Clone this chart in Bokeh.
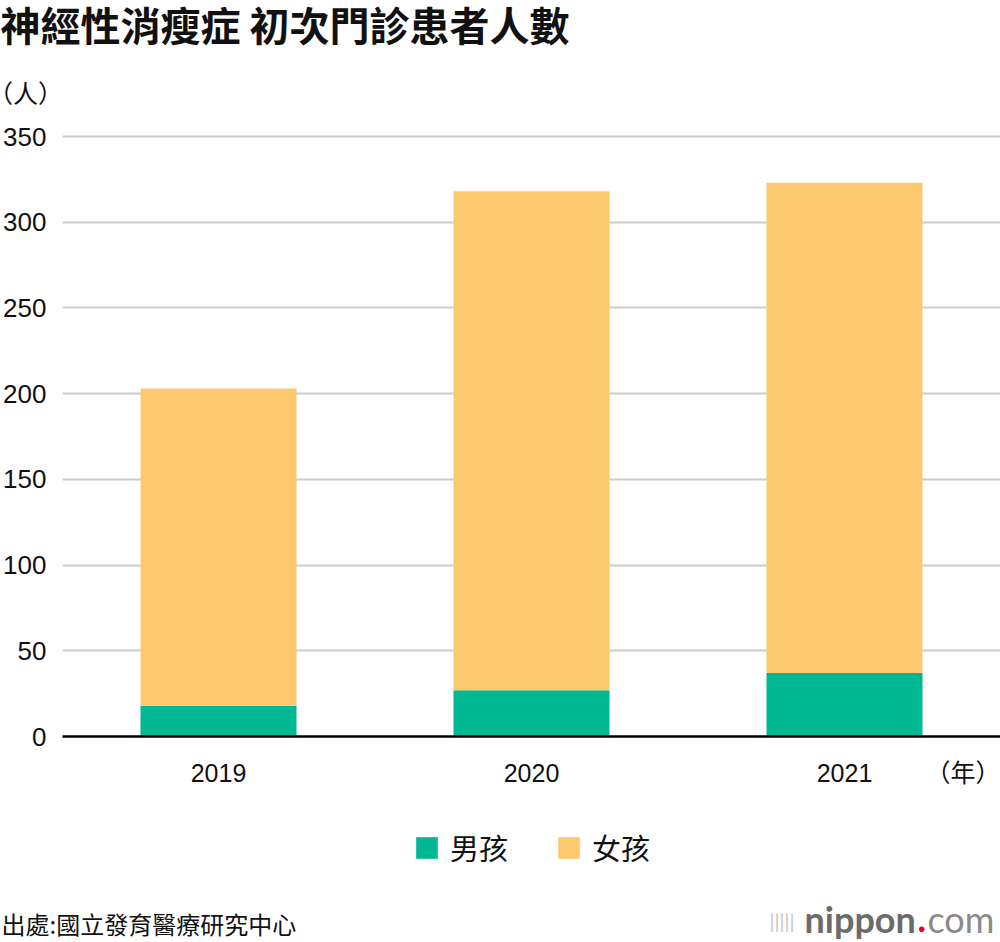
from bokeh.plotting import figure
from bokeh.layouts import column
from bokeh.models import ColumnDataSource, Range1d, FixedTicker, Label, Legend, LegendItem
from bokeh.embed import file_html
from bokeh.resources import INLINE

# ---- data ----
years = [2019, 2020, 2021]
year_labels = ["2019", "2020", "2021"]
boys = [18, 27, 37]
girls = [185, 291, 286]
y_ticks = [0, 50, 100, 150, 200, 250, 300, 350]
series_names = ["男孩", "女孩"]
title_text = "神經性消瘦症 初次門診患者人數"
y_unit = "（人）"
x_unit = "（年）"
source_text = "出處:國立發育醫療研究中心"

GREEN = "#00b894"
YELLOW = "#fcc96e"
TXT = "#111111"
CJK = "Noto Sans CJK TC"
LAT = "Liberation Sans"

W = 1000
TOP_H, CHART_H, BOT_H = 120, 680, 142


def pixel_fig(h):
    f = figure(width=W, height=h, x_range=Range1d(0, W), y_range=Range1d(h, 0),
               output_backend="svg", toolbar_location=None,
               x_axis_location=None, y_axis_location=None,
               min_border_left=0, min_border_right=0, min_border_top=0, min_border_bottom=0)
    f.frame_align = False
    f.grid.visible = False
    f.outline_line_color = None
    return f


def lab(f, x, y, text, size, font=CJK, style="normal", color=TXT, align="left", baseline="middle"):
    f.add_layout(Label(x=x, y=y, text=text, text_font=font, text_font_size=size,
                       text_font_style=style, text_color=color, text_align=align,
                       text_baseline=baseline))


# ---- top: title and unit ----
top = pixel_fig(TOP_H)
lab(top, 0, 23, title_text, "40px", style="bold")
lab(top, 25, 91, y_unit, "25px", align="center")

# ---- chart ----
BL, BT, BB = 62, 14, 64
FH = CHART_H - BT - BB          # 602
FW = W - BL                     # 938
PX = 313.0
x0 = years[0] - 156 / PX
x1 = x0 + FW / PX
y_end = 350 * FH / 600.0
unit_tick = x0 + (985 - BL) / PX

src = ColumnDataSource(dict(year=years, boys=boys, girls=girls))

p = figure(width=W, height=CHART_H, x_range=Range1d(x0, x1), y_range=Range1d(0, y_end),
           output_backend="svg", toolbar_location=None,
           min_border_left=BL, min_border_right=0, min_border_top=BT, min_border_bottom=BB)
p.frame_align = False
p.outline_line_color = None

rs = p.vbar_stack(["boys", "girls"], x="year", width=156 / PX, color=[GREEN, YELLOW],
                  line_color=None, source=src)

p.xaxis.ticker = FixedTicker(ticks=years + [unit_tick])
overrides = {y: s for y, s in zip(years, year_labels)}
overrides[unit_tick] = x_unit
p.xaxis.major_label_overrides = overrides
p.xaxis.axis_line_color = "black"
p.xaxis.axis_line_width = 2.5
p.xaxis.major_tick_line_color = None
p.xaxis.minor_tick_line_color = None
p.xaxis.major_tick_out = 0
p.xaxis.major_label_text_font = LAT + ", " + CJK
p.xaxis.major_label_text_font_size = "25px"
p.xaxis.major_label_text_color = TXT
p.xaxis.major_label_standoff = 22

p.yaxis.ticker = FixedTicker(ticks=y_ticks)
p.yaxis.axis_line_color = None
p.yaxis.major_tick_line_color = None
p.yaxis.minor_tick_line_color = None
p.yaxis.major_tick_out = 0
p.yaxis.major_label_text_font = LAT
p.yaxis.major_label_text_font_size = "26px"
p.yaxis.major_label_text_color = TXT
p.yaxis.major_label_standoff = 16

p.xgrid.grid_line_color = None
p.ygrid.ticker = FixedTicker(ticks=y_ticks[1:])
p.ygrid.grid_line_color = "#cccccc"
p.ygrid.grid_line_width = 2

# ---- bottom: legend, source, logo ----
bot = pixel_fig(BOT_H)
# hidden legend proxies (same data, not drawn in this panel)
lg0 = bot.vbar(x="year", top="boys", width=1, color=GREEN, line_color=None, source=src, visible=False)
lg1 = bot.vbar(x="year", top="girls", width=1, color=YELLOW, line_color=None, source=src, visible=False)
legend = Legend(items=[LegendItem(label=series_names[0], renderers=[lg0]),
                       LegendItem(label=series_names[1], renderers=[lg1])],
                orientation="horizontal", location=(413, 74),
                glyph_width=27, glyph_height=27, label_height=27,
                label_standoff=10, spacing=47, padding=0, margin=0,
                border_line_color=None, background_fill_alpha=0,
                inactive_fill_alpha=0,
                label_text_font=CJK, label_text_font_size="29px",
                label_text_color=TXT)
bot.add_layout(legend, "center")

lab(bot, 1, 123, source_text, "24px")
lab(bot, 769, 120, "|||||", "20px", font="Lato", color="#c4c4c4")
lab(bot, 804, 118, "nippon", "36px", font="Lato", style="bold", color="#6b6b6b")
lab(bot, 917, 118, ".", "36px", font="Lato", style="bold", color="#e60012")
lab(bot, 927, 118, "com", "36px", font="Lato", color="#8a8a8a")

layout = column(top, p, bot, spacing=0)
open("out.html", "w").write(file_html(layout, INLINE))
